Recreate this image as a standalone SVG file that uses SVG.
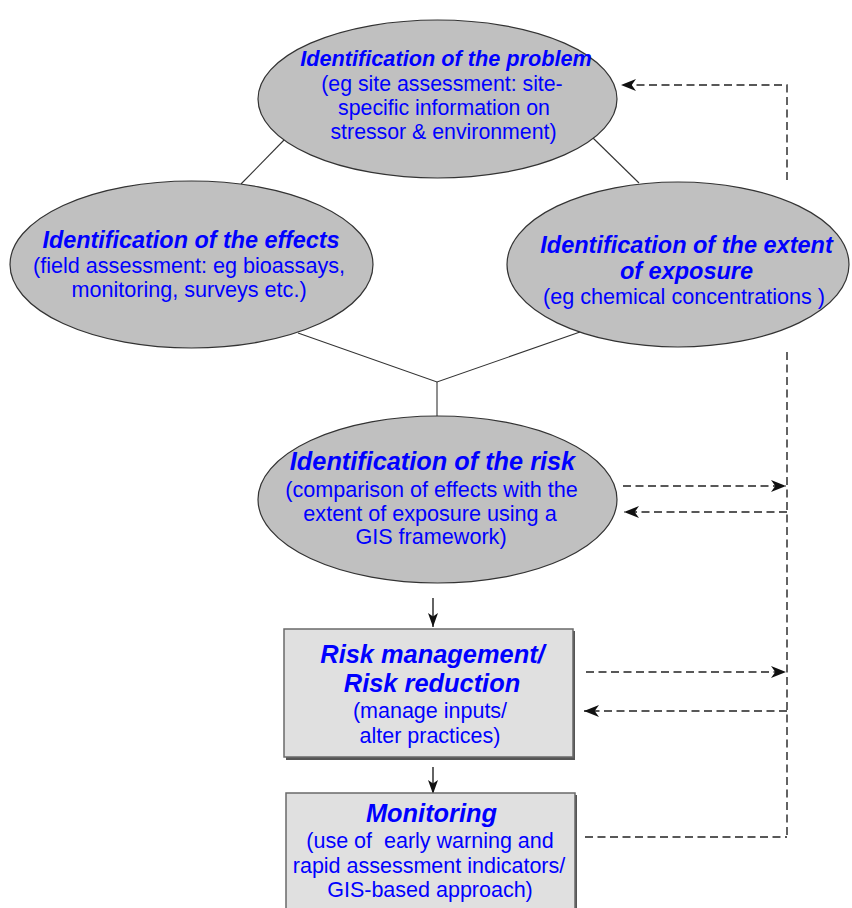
<svg xmlns="http://www.w3.org/2000/svg" width="852" height="908" viewBox="0 0 852 908">
<defs>
<style>
.ell{fill:#c0c0c0;stroke:#333;stroke-width:1.2}
.box{fill:#e0e0e0;stroke:#6a6a6a;stroke-width:1.5}
.shadow{fill:#555}
.t{font-family:"Liberation Sans",Arial,sans-serif;fill:#0000ff;text-anchor:middle}
.h{font-weight:bold;font-style:italic}
.ln{stroke:#333;stroke-width:1.1;fill:none}
.ds{stroke:#222;stroke-width:1.4;fill:none;stroke-dasharray:8 4.5}
.ar{stroke:#222;stroke-width:1.4;fill:none}
</style>
<marker id="ah" viewBox="0 0 14 11" refX="14" refY="5.5" markerWidth="15" markerHeight="12" orient="auto" markerUnits="userSpaceOnUse">
<path d="M0,0 L14,5.5 L0,11 L4,5.5 z" fill="#111"/>
</marker>
<marker id="av" viewBox="0 0 14 10" refX="14" refY="5" markerWidth="14" markerHeight="10" orient="auto" markerUnits="userSpaceOnUse">
<path d="M0,0 L14,5 L0,10 L3.5,5 z" fill="#111"/>
</marker>
</defs>
<rect width="852" height="908" fill="#fff"/>
<g id="connectors">
<line class="ln" x1="286" y1="138" x2="241" y2="184"/>
<line class="ln" x1="593" y1="138" x2="639" y2="183"/>
<polyline class="ln" points="298,333 437,382 580,332"/>
<line class="ln" x1="437" y1="382" x2="437" y2="416"/>
<line class="ar" x1="433" y1="598" x2="433" y2="627" marker-end="url(#av)"/>
<line class="ar" x1="433" y1="767" x2="433" y2="794" marker-end="url(#av)"/>
<polyline class="ds" points="787,180 787,85 621,85" marker-end="url(#ah)"/>
<line class="ds" x1="787" y1="352" x2="787" y2="837"/>
<line class="ds" x1="623" y1="486" x2="786" y2="486" marker-end="url(#ah)"/>
<line class="ds" x1="787" y1="512" x2="624" y2="512" marker-end="url(#ah)"/>
<line class="ds" x1="586" y1="672" x2="786" y2="672" marker-end="url(#ah)"/>
<line class="ds" x1="787" y1="711" x2="584" y2="711" marker-end="url(#ah)"/>
<line class="ds" x1="585" y1="837" x2="787" y2="837"/>
</g>
<g id="problem">
<ellipse class="ell" cx="437.5" cy="99" rx="179.5" ry="79"/>
<text class="t h" x="446" y="66" font-size="21.7">Identification of the problem</text>
<text class="t" font-size="21.3"><tspan x="442" y="91">(eg site assessment: site-</tspan><tspan x="444" y="115">specific information on</tspan><tspan x="443.5" y="139">stressor &amp; environment)</tspan></text>
</g>
<g id="effects">
<ellipse class="ell" cx="191.5" cy="264.5" rx="181.5" ry="83.5"/>
<text class="t h" x="191" y="247.5" font-size="23.4">Identification of the effects</text>
<text class="t" font-size="21.6"><tspan x="189" y="272.5">(field assessment: eg bioassays,</tspan><tspan x="189" y="296.5">monitoring, surveys etc.)</tspan></text>
</g>
<g id="exposure">
<ellipse class="ell" cx="678" cy="264.5" rx="171" ry="82.5"/>
<text class="t h" font-size="23.5"><tspan x="686.5" y="252.5">Identification of the extent</tspan><tspan x="686.5" y="279">of exposure</tspan></text>
<text class="t" x="684" y="304" font-size="21.6">(eg chemical concentrations )</text>
</g>
<g id="risk">
<ellipse class="ell" cx="437.5" cy="499.5" rx="179.5" ry="83.5"/>
<text class="t h" x="432.5" y="470" font-size="25.3">Identification of the risk</text>
<text class="t" font-size="21.6"><tspan x="431.5" y="497">(comparison of effects with the</tspan><tspan x="430" y="521">extent of exposure using a</tspan><tspan x="431" y="544">GIS framework)</tspan></text>
</g>
<g id="management">
<rect class="shadow" x="286" y="631" width="289" height="129"/>
<rect class="box" x="284" y="629" width="289" height="128"/>
<text class="t h" font-size="25.4"><tspan x="432.5" y="663">Risk management/</tspan><tspan x="432" y="692">Risk reduction</tspan></text>
<text class="t" font-size="21.5"><tspan x="430" y="718">(manage inputs/</tspan><tspan x="430" y="743">alter practices)</tspan></text>
</g>
<g id="monitoring">
<rect class="shadow" x="288" y="795" width="289" height="120"/>
<rect class="box" x="286" y="793" width="289" height="120"/>
<text class="t h" x="431.5" y="822" font-size="25.4">Monitoring</text>
<text class="t" font-size="21.5"><tspan x="430" y="848">(use of&#160; early warning and</tspan><tspan x="429" y="873">rapid assessment indicators/</tspan><tspan x="430" y="897">GIS-based approach)</tspan></text>
</g>
</svg>
